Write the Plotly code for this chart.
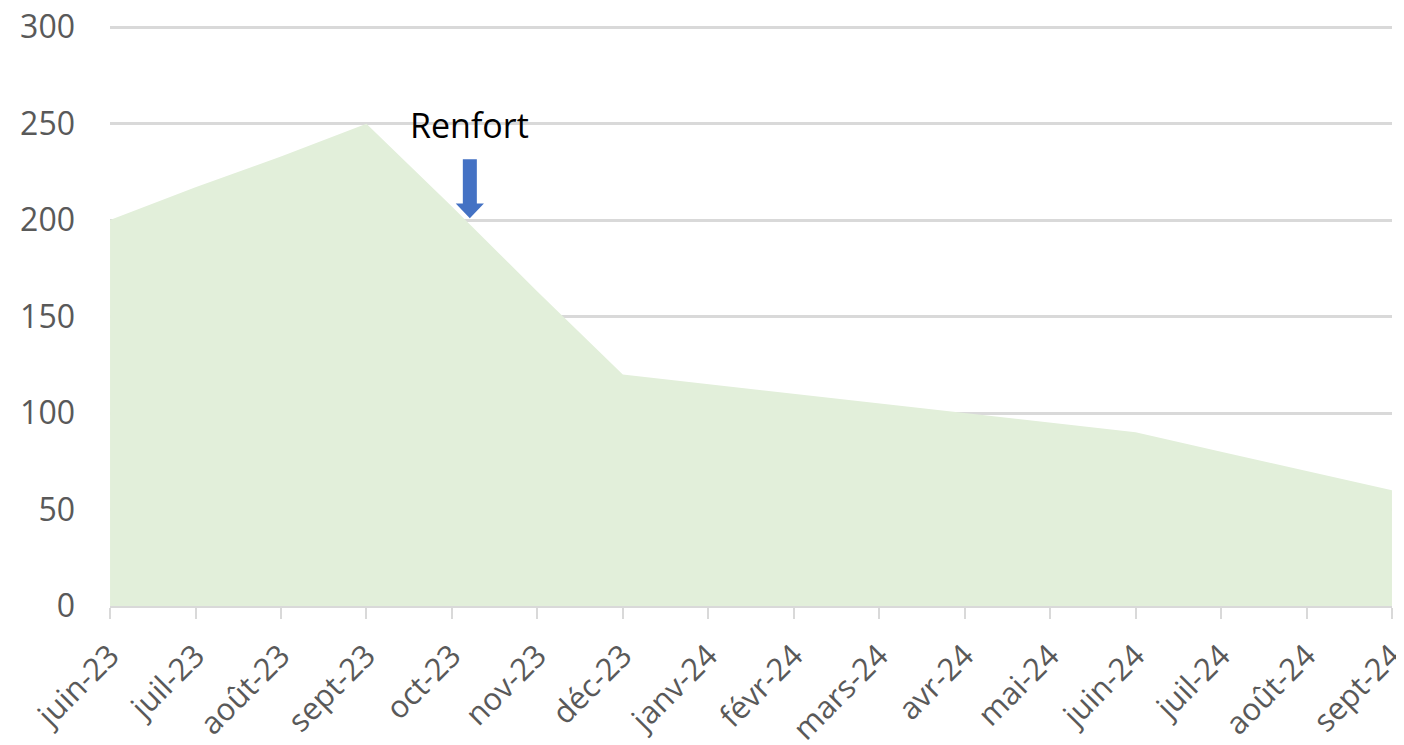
import plotly.graph_objects as go

months = ["juin-23", "juil-23", "août-23", "sept-23", "oct-23", "nov-23", "déc-23",
          "janv-24", "févr-24", "mars-24", "avr-24", "mai-24", "juin-24", "juil-24",
          "août-24", "sept-24"]
values = [200, 217, 233, 250, 207, 163, 120, 115, 110, 105, 100, 95, 90, 80, 70, 60]
y_ticks = [0, 50, 100, 150, 200, 250, 300]

annotation_text = "Renfort"
arrow_x = 4.21          # position of the "Renfort" arrow, in month index units
arrow_top, arrow_neck, arrow_tip = 231.5, 208.6, 201.0
shaft_half, head_half = 0.082, 0.165

x_idx = list(range(len(months)))

fig = go.Figure()
fig.add_trace(go.Scatter(
    x=x_idx, y=values, mode="lines", fill="tozeroy",
    fillcolor="#E2EFDA", line=dict(width=0, color="#E2EFDA"),
    hoverinfo="skip", showlegend=False,
))

# Arrow (shaft + head) as a path in data coordinates
ax = arrow_x
path = (f"M {ax - shaft_half},{arrow_top} L {ax + shaft_half},{arrow_top} "
        f"L {ax + shaft_half},{arrow_neck} L {ax + head_half},{arrow_neck} "
        f"L {ax},{arrow_tip} L {ax - head_half},{arrow_neck} "
        f"L {ax - shaft_half},{arrow_neck} Z")
fig.add_shape(type="path", path=path, xref="x", yref="y",
              fillcolor="#4472C4", line=dict(width=0), layer="above")

fig.add_annotation(x=ax, y=250, xref="x", yref="y", text=annotation_text,
                   showarrow=False, yanchor="middle", yshift=-1,
                   font=dict(family="Open Sans", size=34, color="#000000"))

# The page body adds an 8px margin; the figure is sized to fit the window.
fig.update_layout(
    width=1396, height=737,
    margin=dict(l=102, r=12, t=18, b=139),
    paper_bgcolor="white", plot_bgcolor="white",
    font=dict(family="Open Sans", color="#595959"),
    showlegend=False,
)
fig.update_xaxes(
    range=[-0.0005, len(months) - 1 + 0.0005], tickmode="array", tickvals=x_idx, ticktext=months,
    tickangle=-45, tickfont=dict(size=31, color="#595959"),
    showgrid=False, zeroline=False, automargin=False, ticklabeloverflow="allow",
    showline=True, linecolor="#D9D9D9", linewidth=2,
    ticks="outside", ticklen=11, tickwidth=2, tickcolor="#D9D9D9",
    ticklabelstandoff=6,
)
fig.update_yaxes(
    range=[0, 300.6], tickmode="array", tickvals=y_ticks,
    tickfont=dict(size=32, color="#595959"),
    showgrid=True, gridcolor="#D9D9D9", gridwidth=2.5,
    zeroline=False, showline=False, ticks="", ticklabelstandoff=34,
    automargin=False, ticklabeloverflow="allow",
)

fig.write_html("out.html")
